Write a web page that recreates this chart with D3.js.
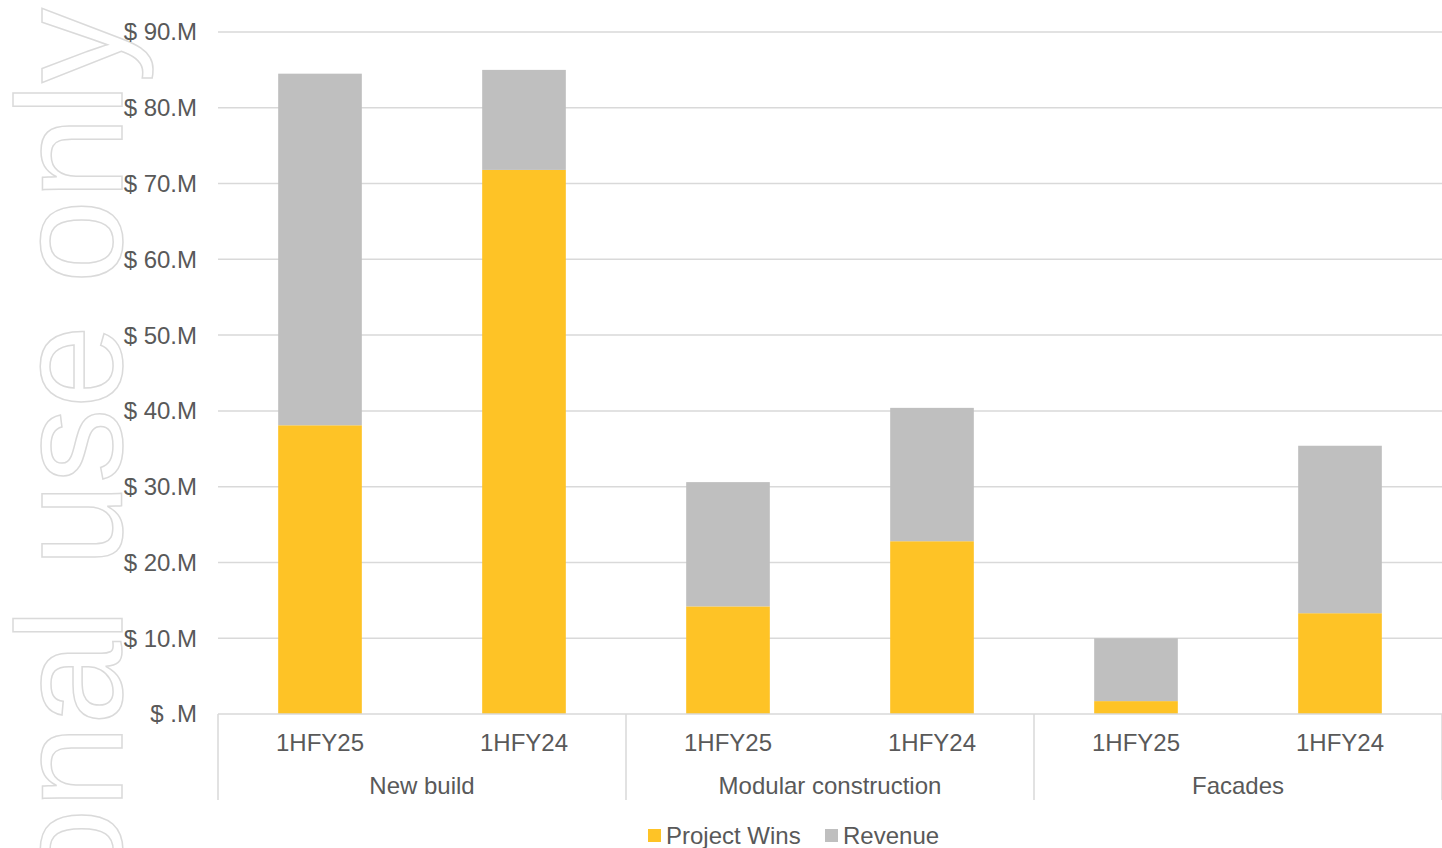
<!DOCTYPE html>
<html>
<head>
    <meta charset="utf-8">
    <title>Project Wins and Revenue</title>
    <script src="https://d3js.org/d3.v7.min.js"></script>
    <style>
        body { margin: 0; background: #fff; }
        text { font-family: "Liberation Sans", Arial, sans-serif; fill: #595959; }
        .grid line { stroke: #d9d9d9; stroke-width: 1.5px; }
    </style>
</head>
<body>
    <div id="chart"></div>
    <script>
        // chart data
        const groups = ["New build", "Modular construction", "Facades"];
        const periods = ["1HFY25", "1HFY24"];
        const projectWins = [38.1, 71.8, 14.2, 22.8, 1.7, 13.3];
        const revenue = [46.4, 13.2, 16.4, 17.6, 8.3, 22.1];
        const yTicks = [0, 10, 20, 30, 40, 50, 60, 70, 80, 90];
        const yTickLabels = ["$ .M", "$ 10.M", "$ 20.M", "$ 30.M", "$ 40.M", "$ 50.M", "$ 60.M", "$ 70.M", "$ 80.M", "$ 90.M"];
        const seriesNames = ["Project Wins", "Revenue"];
        const colors = ["#fec326", "#bfbfbf"];

        const width = 1442, height = 848;
        const plot = { left: 218, right: 1442, top: 32, bottom: 714 };

        const svg = d3.select("#chart").append("svg")
            .attr("width", width)
            .attr("height", height);

        // watermark, outlined text up the left side
        svg.append("text")
            .attr("transform", "translate(122,8) rotate(-90)")
            .attr("text-anchor", "end")
            .style("font-family", "Liberation Sans, Arial, sans-serif")
            .style("font-size", "150px")
            .style("fill", "none")
            .style("stroke", "#dadada")
            .style("stroke-width", 1.5)
            .text("For personal use only");

        const y = d3.scaleLinear().domain([0, 90]).range([plot.bottom, plot.top]);
        const x0 = d3.scaleBand().domain(groups).range([plot.left, plot.right]);
        const x1 = d3.scaleBand().domain(periods).range([0, x0.bandwidth()]).paddingInner(0.59).paddingOuter(0.295);

        // gridlines
        svg.append("g").attr("class", "grid")
            .selectAll("line")
            .data(yTicks.filter(d => d > 0))
            .join("line")
            .attr("x1", plot.left).attr("x2", plot.right)
            .attr("y1", d => y(d)).attr("y2", d => y(d));

        // y tick labels
        svg.append("g")
            .selectAll("text")
            .data(yTicks)
            .join("text")
            .attr("x", 197)
            .attr("y", d => y(d))
            .attr("dy", "0.35em")
            .attr("text-anchor", "end")
            .style("font-size", "24px")
            .text((d, i) => yTickLabels[i]);

        // stack the two series
        const rows = [];
        groups.forEach((g, gi) => periods.forEach((p, pi) => {
            const i = gi * periods.length + pi;
            rows.push({ group: g, period: p, "Project Wins": projectWins[i], "Revenue": revenue[i] });
        }));
        const stacked = d3.stack().keys(seriesNames)(rows);

        svg.append("g")
            .selectAll("g")
            .data(stacked)
            .join("g")
            .attr("fill", (d, i) => colors[i])
            .selectAll("rect")
            .data(d => d)
            .join("rect")
            .attr("x", d => x0(d.data.group) + x1(d.data.period))
            .attr("width", x1.bandwidth())
            .attr("y", d => y(d[1]))
            .attr("height", d => y(d[0]) - y(d[1]));

        // category axis with group dividers
        const axis = svg.append("g").attr("class", "grid");
        axis.append("line")
            .attr("x1", plot.left).attr("x2", plot.right)
            .attr("y1", plot.bottom).attr("y2", plot.bottom);
        axis.selectAll(".divider")
            .data([...groups.map(g => x0(g)), plot.right])
            .join("line")
            .attr("class", "divider")
            .attr("x1", d => d).attr("x2", d => d)
            .attr("y1", plot.bottom).attr("y2", 800);

        groups.forEach(g => {
            svg.append("g").selectAll("text")
                .data(periods)
                .join("text")
                .attr("x", p => x0(g) + x1(p) + x1.bandwidth() / 2)
                .attr("y", 743)
                .attr("dy", "0.35em")
                .attr("text-anchor", "middle")
                .style("font-size", "24px")
                .text(p => p);
        });

        svg.append("g").selectAll("text")
            .data(groups)
            .join("text")
            .attr("x", g => x0(g) + x0.bandwidth() / 2)
            .attr("y", 786)
            .attr("dy", "0.35em")
            .attr("text-anchor", "middle")
            .style("font-size", "24px")
            .text(g => g);

        // legend
        const legendX = [648, 825];
        const legend = svg.append("g").selectAll("g")
            .data(seriesNames)
            .join("g")
            .attr("transform", (d, i) => `translate(${legendX[i]},829)`);
        legend.append("rect")
            .attr("width", 13).attr("height", 13)
            .attr("fill", (d, i) => colors[i]);
        legend.append("text")
            .attr("x", 18)
            .attr("y", 7)
            .attr("dy", "0.35em")
            .style("font-size", "24px")
            .text(d => d);
    </script>
</body>
</html>
